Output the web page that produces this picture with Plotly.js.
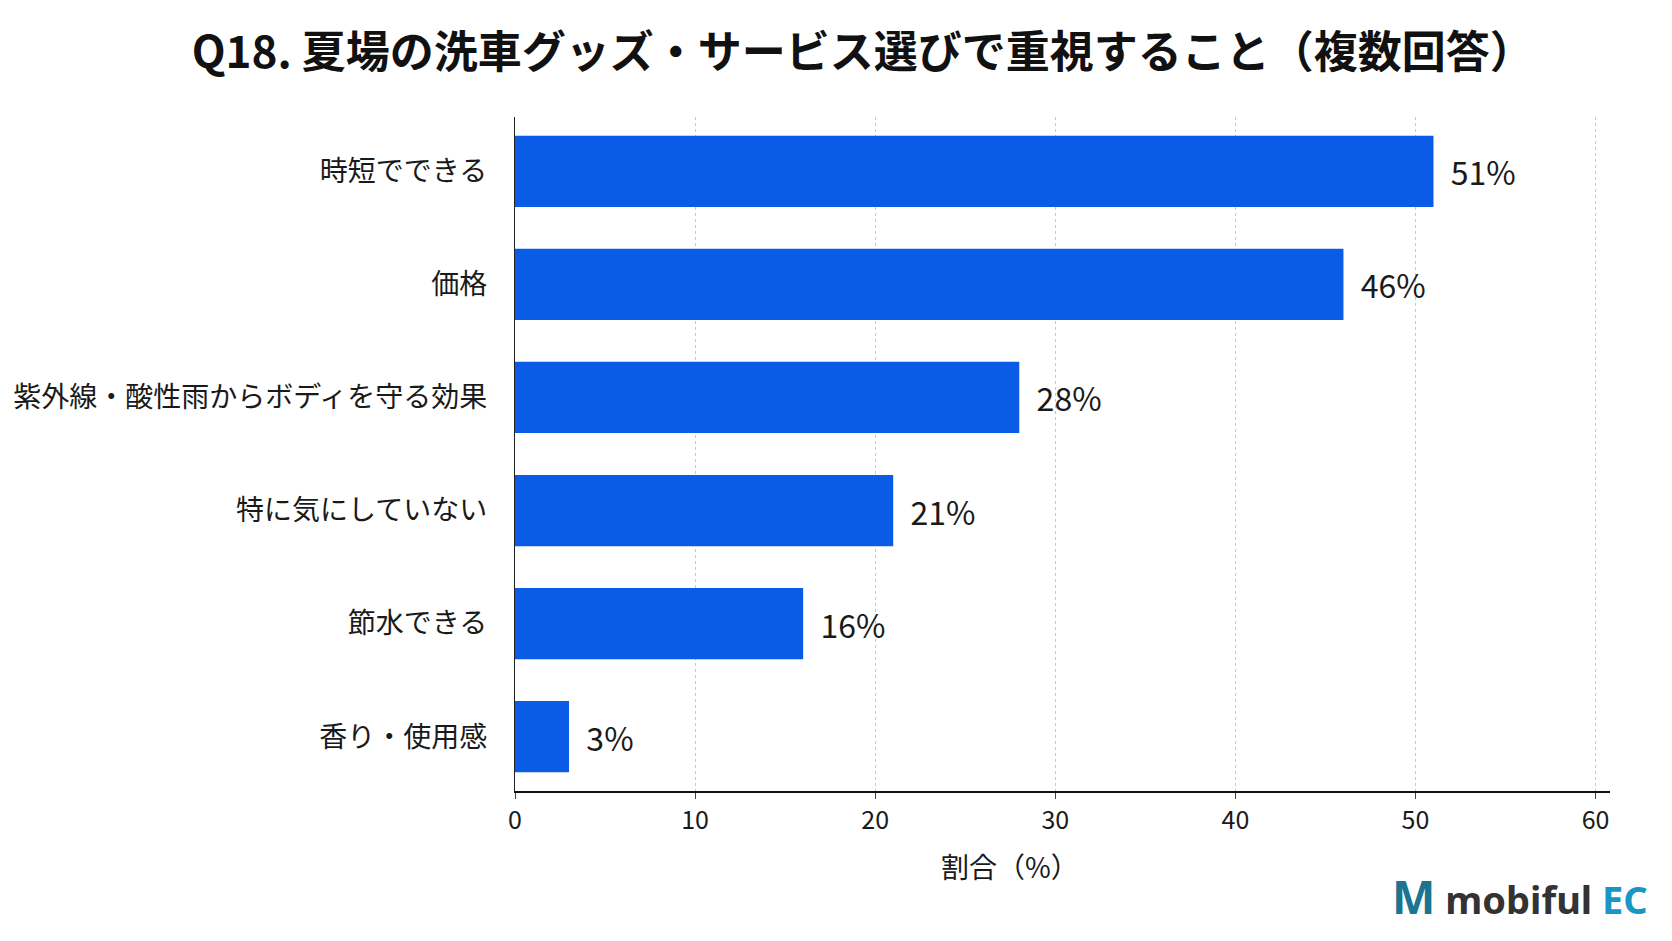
<!DOCTYPE html>
<html>
<head>
<meta charset="utf-8">
<script src="https://cdn.plot.ly/plotly-3.0.1.min.js"></script>
<style>
  body { margin: 0; background: #fff; }
  #chart { width: 1672px; height: 941px; }
</style>
</head>
<body>
<div id="chart"></div>
<script>
// Q18 answers, top to bottom
const categories = ['時短でできる', '価格', '紫外線・酸性雨からボディを守る効果', '特に気にしていない', '節水できる', '香り・使用感'];
const shares = [51, 46, 28, 21, 16, 3];
const xTicks = [0, 10, 20, 30, 40, 50, 60];

const font = '"Noto Sans CJK JP", "Noto Sans", sans-serif';

const trace = [{
    type: 'bar',
    orientation: 'h',
    y: categories,
    x: shares,
    text: shares.map(v => '\u00A0\u00A0' + v + '%'),
    textposition: 'outside',
    cliponaxis: false,
    textfont: {family: font, size: 32, color: '#1a1a1a'},
    marker: {color: '#0a5ce6'},
    width: 0.63,
    hoverinfo: 'none'
}];

const layout = {
    width: 1672,
    height: 941,
    paper_bgcolor: '#fff',
    plot_bgcolor: '#fff',
    margin: {l: 515, r: 62, t: 117, b: 150},
    showlegend: false,
    font: {family: font, color: '#1a1a1a'},
    title: {
        text: '<b>Q18. 夏場の洗車グッズ・サービス選びで重視すること（複数回答）</b>',
        font: {family: font, size: 44, color: '#111'},
        x: 0.516, xanchor: 'center',
        y: 1 - 53 / 941, yanchor: 'middle', yref: 'container'
    },
    xaxis: {
        range: [0, 60.8],
        tickvals: xTicks,
        ticktext: xTicks.map(String),
        ticks: 'outside',
        ticklen: 6,
        tickcolor: '#444',
        tickfont: {family: font, size: 25, color: '#1a1a1a'},
        showline: true,
        linecolor: '#111',
        linewidth: 2,
        showgrid: true,
        gridcolor: '#c8c8c8',
        griddash: 'dot',
        gridwidth: 1,
        zeroline: false,
        fixedrange: true
    },
    yaxis: {
        type: 'category',
        range: [5.48, -0.48],
        showline: true,
        linecolor: '#222',
        linewidth: 1.2,
        ticks: '',
        ticklabelstandoff: 21,
        tickfont: {family: font, size: 28, color: '#1a1a1a'},
        showgrid: false,
        zeroline: false,
        fixedrange: true
    },
    annotations: [
        {
            text: '割合（%）',
            xref: 'paper', yref: 'paper',
            x: (1010 - 515) / (1672 - 515 - 62), y: -75 / (941 - 117 - 150),
            xanchor: 'center', yanchor: 'middle',
            showarrow: false,
            font: {family: font, size: 28, color: '#1a1a1a'}
        },
        {
            text: '<b><span style="color:#1b7590;font-size:46px">M</span> <span style="color:#333">mobiful</span> <span style="color:#1897c4">EC</span></b>',
            xref: 'paper', yref: 'paper',
            x: (1650 - 515) / (1672 - 515 - 62), y: -(896 - 791) / (941 - 117 - 150),
            xanchor: 'right', yanchor: 'middle',
            showarrow: false,
            font: {family: '"Noto Sans", sans-serif', size: 38}
        }
    ]
};

Plotly.newPlot('chart', trace, layout, {displayModeBar: false, staticPlot: true});
</script>
</body>
</html>
